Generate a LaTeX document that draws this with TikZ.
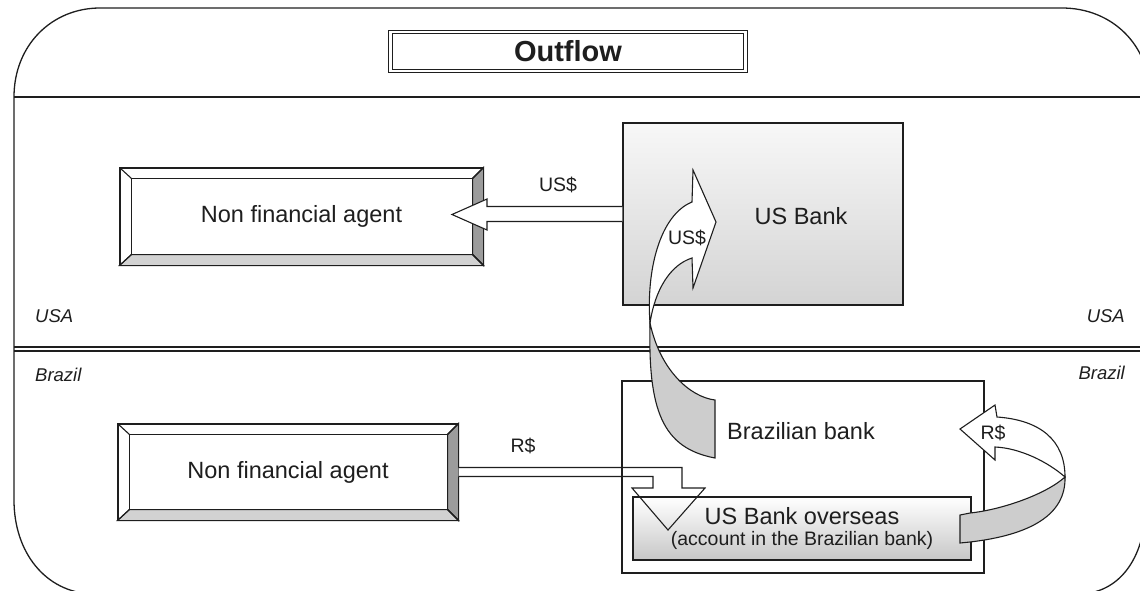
\documentclass[tikz,border=0pt]{standalone}
\usepackage{fontspec}
\setmainfont{Liberation Sans}
\usetikzlibrary{calc}
\definecolor{ink}{HTML}{1E1E1E}
\definecolor{bevdark}{HTML}{9C9C9C}
\definecolor{bevlight}{HTML}{D2D2D2}
\definecolor{ribbon}{HTML}{CDCDCD}
\newcommand\fs[1]{\fontsize{#1}{#1}\selectfont}
% bevelled frame round a named rectangular node
\newcommand\bevelframe[1]{%
  \coordinate (#1-a) at ($(#1.north west)+(12,11)$);
  \coordinate (#1-b) at ($(#1.north east)+(-11,11)$);
  \coordinate (#1-c) at ($(#1.south east)+(-11,-11)$);
  \coordinate (#1-d) at ($(#1.south west)+(12,-11)$);
  \filldraw[bevelpart, fill=bevdark] (#1.north east) -- (#1.south east) -- (#1-c) -- (#1-b) -- cycle;
  \filldraw[bevelpart, fill=bevlight] (#1.south west) -- (#1.south east) -- (#1-c) -- (#1-d) -- cycle;
  \draw[bevelpart] (#1-a) rectangle (#1-c);
  \draw[bevelpart] (#1.north west) -- (#1-a) (#1.north east) -- (#1-b)
                   (#1.south west) -- (#1-d) (#1.south east) -- (#1-c);
  \draw[bevelpart] (#1.north west) rectangle (#1.south east);
}
\begin{document}
\begin{tikzpicture}[x=1pt,y=-1pt,
  frameline/.style={draw=ink, line width=1.3pt},
  bevelpart/.style={draw=ink, line width=1.1pt},
  plainbox/.style={draw=ink, line width=1.2pt, inner sep=0pt},
  blockarrow/.style={draw=ink, line width=1.1pt, line join=miter},
  bigtext/.style={text=ink, inner sep=0pt, font=\fs{23.5}},
  smalltext/.style={text=ink, inner sep=0pt, font=\fs{19.5}},
  regiontext/.style={text=ink, inner sep=0pt, font=\fs{18.5}\itshape}]
\useasboundingbox (0,0) rectangle (1140,590);

% outer rounded frame and the two region dividers
\begin{scope}
  \clip (0,0) rectangle (1140,590);
  \draw[frameline] (14,97) -- (14,500) .. controls (14,552) and (45,592) .. (92,594)
    -- (1078,594) .. controls (1118,594) and (1145,560) .. (1146,505)
    -- (1150,96) .. controls (1150,45) and (1112,8) .. (1062,8)
    -- (100,8) .. controls (52,8) and (14,45) .. (14,97);
  \draw[frameline] (14,97) -- (1140,97);
  \draw[frameline, line width=1.1pt] (14,347) -- (1140,347);
  \draw[frameline, line width=1.1pt] (14,351) -- (1140,351);
\end{scope}

% region names
\node[regiontext, anchor=west] (usaL) at (35,316) {USA};
\node[regiontext, anchor=east] (usaR) at (1125,316) {USA};
\node[regiontext, anchor=west] (brL) at (35,375) {Brazil};
\node[regiontext, anchor=east] (brR) at (1125,373) {Brazil};

% title
\node[draw=ink, line width=1pt, double, double distance=2.6pt,
      minimum width=355pt, minimum height=39pt, inner sep=0pt,
      font=\fs{29}\bfseries, text=ink] (title) at (568,51.5) {Outflow};

% USA side
\node[bevelpart, fill=white, minimum width=363pt, minimum height=97pt, inner sep=0pt] (nfa1) at (301.5,216.5) {};
\bevelframe{nfa1}
\node[bigtext] (nfa1txt) at (nfa1) {Non financial agent};

\node[plainbox, top color=black!3, bottom color=black!17,
      minimum width=280pt, minimum height=182pt] (usbank) at (763,214) {};
\node[bigtext] (usbanktxt) at (801,216) {US Bank};

% US$ payment from the US bank to the agent
\filldraw[blockarrow, fill=white] ($(usbank.west)+(0,-7.5)$) -- (487,206.5) -- (487,199)
  -- (452,214.5) -- (487,230) -- (487,221.5) -- ($(usbank.west)+(0,7.5)$);
\node[smalltext] (usdlbl) at (558,185) {US\$};

% Brazil side
\node[bevelpart, fill=white, minimum width=340pt, minimum height=96pt, inner sep=0pt] (nfa2) at (288,472) {};
\bevelframe{nfa2}
\node[bigtext] (nfa2txt) at (nfa2) {Non financial agent};

% R$ deposit into the overseas account
\fill[white] ($(nfa2.east)+(0,-4.5)$) -- (682,467.5) -- (682,488) -- (705,488) -- (668,530)
  -- (632,488) -- (653,488) -- (653,476.5) -- ($(nfa2.east)+(0,4.5)$) -- cycle;

\node[plainbox, minimum width=362pt, minimum height=192pt] (brbank) at (803,477) {};
\node[bigtext, anchor=west] (brbanktxt) at (727,431) {Brazilian bank};

\node[plainbox, top color=white, bottom color=black!22,
      minimum width=338pt, minimum height=63pt, align=center, text=ink] (overseas) at (802,528.5)
  {{\fs{23.5}US Bank overseas}\\[5pt]{\fs{19.5}(account in the Brazilian bank)}};

\draw[blockarrow] ($(nfa2.east)+(0,-4.5)$) -- (682,467.5) -- (682,488) -- (705,488) -- (668,530)
  -- (632,488) -- (653,488) -- (653,476.5) -- ($(nfa2.east)+(0,4.5)$);
\node[smalltext] (rdlbl) at (523,446) {R\$};

% twisted US$ transfer from the Brazilian bank up to the US bank
\coordinate (twA) at (650,323);
\filldraw[blockarrow, fill=ribbon] (twA) .. controls (648,410) and (662,448) .. (715,458)
  -- (715,400) .. controls (690,397) and (660,370) .. (twA) -- cycle;
\filldraw[blockarrow, fill=white] (twA) .. controls (646,270) and (660,215) .. (692,202)
  -- (693,170) -- (716,222) -- (693,288) -- (692,258)
  .. controls (670,265) and (655,290) .. (twA) -- cycle;
\node[smalltext] (usdcurve) at (687,238) {US\$};

% twisted R$ transfer from the overseas account back to the Brazilian bank
\coordinate (twB) at (1065,477);
\filldraw[blockarrow, fill=ribbon] (twB) .. controls (1066,515) and (1030,535) .. (970,542)
  -- (960,543) -- (960,515) -- (970,513)
  .. controls (1000,510) and (1045,495) .. (twB) -- cycle;
\filldraw[blockarrow, fill=white] (twB) .. controls (1065,440) and (1040,420) .. (997,417)
  -- (995,405) -- (960,429) -- (995,460) -- (995,447)
  .. controls (1020,448) and (1048,462) .. (twB) -- cycle;
\node[smalltext] (rdcurve) at (993,433) {R\$};
\end{tikzpicture}
\end{document}
